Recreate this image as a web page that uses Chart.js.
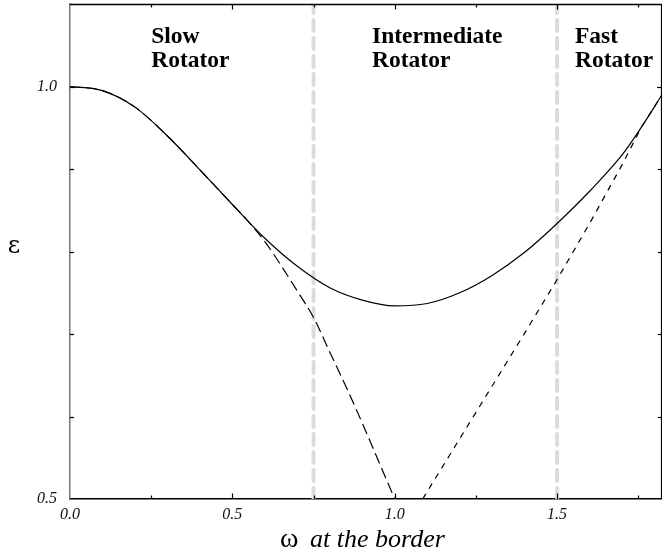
<!DOCTYPE html>
<html><head><meta charset="utf-8">
<script src="https://cdn.jsdelivr.net/npm/chart.js@4"></script>
<style>html,body{margin:0;padding:0;background:#fff}#wrap{width:662px;height:552px}</style>
</head><body>
<div id="wrap"><canvas id="c"></canvas></div>
<script>
// ---- data ----
const solidX = [0, 0.1, 0.2, 0.3, 0.4, 0.5, 0.6, 0.7, 0.8, 0.9, 1.0, 1.1, 1.2, 1.3, 1.4, 1.5, 1.6, 1.7, 1.76, 1.823];
const solidY = [1.0, 0.995, 0.975, 0.94, 0.899, 0.857, 0.816, 0.782, 0.756, 0.741, 0.734, 0.737, 0.750, 0.771, 0.799, 0.834, 0.873, 0.917, 0.951, 0.99];
const longDashX = [0, 0.1, 0.2, 0.3, 0.4, 0.5, 0.55, 0.6, 0.65, 0.7, 0.75, 0.8, 0.85, 0.9, 0.95, 1.0];
const longDashY = [1.0, 0.995, 0.975, 0.94, 0.899, 0.857, 0.836, 0.812, 0.783, 0.752, 0.72, 0.678, 0.636, 0.592, 0.546, 0.5];
const shortDashX = [1.086, 1.2, 1.3, 1.4, 1.5, 1.6, 1.7, 1.76, 1.823];
const shortDashY = [0.5, 0.573, 0.637, 0.701, 0.766, 0.834, 0.905, 0.951, 0.99];
const regionBorders = [0.75, 1.5];
const regionNames = [["Slow", "Rotator"], ["Intermediate", "Rotator"], ["Fast", "Rotator"]];
const regionStarts = [0.25, 0.93, 1.555];
const xTickLabels = ["0.0", "0.5", "1.0", "1.5"];
const yTickLabels = ["0.5", "1.0"];
const xTitleSymbol = "ω";
const xTitleText = "at the border";
const yTitle = "ε";

const pts = (xs, ys) => xs.map((x, i) => ({x: x, y: ys[i]}));

const datasets = [
  {data: pts(solidX, solidY), borderColor: '#000', borderWidth: 1.2, cubicInterpolationMode: 'monotone'},
  {data: pts(longDashX, longDashY), borderColor: '#000', borderWidth: 1.2, borderDash: [11, 5], cubicInterpolationMode: 'monotone'},
  {data: pts(shortDashX, shortDashY), borderColor: '#000', borderWidth: 1.2, borderDash: [6, 6]}
];
regionBorders.forEach(b => datasets.push({
  data: [{x: b, y: 0.5}, {x: b, y: 1.1}],
  borderColor: '#dcdcdc', borderWidth: 4, borderDash: [11, 7], borderCapStyle: 'round'
}));

const decor = {
  id: 'decor',
  afterDraw(chart) {
    const ctx = chart.ctx, a = chart.chartArea, xs = chart.scales.x, ys = chart.scales.y;
    ctx.save();
    // frame top / right
    ctx.strokeStyle = '#000'; ctx.lineWidth = 1.5;
    ctx.beginPath(); ctx.moveTo(a.left, a.top + 0.5); ctx.lineTo(a.right, a.top + 0.5); ctx.stroke();
    ctx.lineWidth = 1.2;
    ctx.beginPath(); ctx.moveTo(a.right - 0.5, a.top); ctx.lineTo(a.right - 0.5, a.bottom); ctx.stroke();
    // inward ticks
    ctx.lineWidth = 1.2; ctx.strokeStyle = '#000';
    xs.ticks.forEach(t => {
      const lbl = t.value.toFixed(1);
      const major = Math.abs(t.value * 2 - Math.round(t.value * 2)) < 1e-6 && xTickLabels.includes(lbl);
      const len = major ? 5.5 : 3.5;
      const px = Math.round(xs.getPixelForValue(t.value)) + 0.5;
      if (px <= a.left + 1 || px >= a.right - 1) return;
      ctx.beginPath(); ctx.moveTo(px, a.bottom); ctx.lineTo(px, a.bottom - len); ctx.stroke();
      ctx.beginPath(); ctx.moveTo(px, a.top); ctx.lineTo(px, a.top + len); ctx.stroke();
    });
    ys.ticks.forEach(t => {
      const py = Math.round(ys.getPixelForValue(t.value)) + 0.5;
      if (py <= a.top + 1 || py >= a.bottom - 1) return;
      const major = yTickLabels.includes(t.value.toFixed(1));
      const len = major ? 5 : 4;
      ctx.beginPath(); ctx.moveTo(a.left, py); ctx.lineTo(a.left + len, py); ctx.stroke();
      ctx.beginPath(); ctx.moveTo(a.right, py); ctx.lineTo(a.right - len, py); ctx.stroke();
    });
    // region labels
    ctx.fillStyle = '#000';
    ctx.font = 'bold 23.5px "Liberation Serif"';
    ctx.textAlign = 'left'; ctx.textBaseline = 'alphabetic';
    regionNames.forEach((lines, i) => {
      const px = xs.getPixelForValue(regionStarts[i]);
      const py = ys.getPixelForValue(1.053);
      lines.forEach((s, j) => ctx.fillText(s, px, py + j * 24.5));
    });
    // x title
    ctx.font = '28px "Liberation Serif"';
    const w1 = ctx.measureText(xTitleSymbol).width;
    const sx = 280;
    ctx.fillText(xTitleSymbol, sx, 547);
    ctx.font = 'italic 26px "Liberation Serif"';
    ctx.fillText(xTitleText, 310, 547);
    // y title
    ctx.font = '24px "DejaVu Serif"';
    ctx.textAlign = 'center';
    ctx.fillText(yTitle, 14, 253);
    ctx.restore();
  }
};

new Chart(document.getElementById('c'), {
  type: 'scatter',
  data: {datasets: datasets},
  options: {
    responsive: true, maintainAspectRatio: false, animation: false,
    layout: {padding: {top: 4, right: 0, left: 0, bottom: 0}},
    elements: {point: {radius: 0, hoverRadius: 0}, line: {fill: false}},
    datasets: {scatter: {showLine: true}},
    plugins: {legend: {display: false}, tooltip: {enabled: false}},
    scales: {
      x: {
        type: 'linear', min: 0, max: 1.823, position: 'bottom',
        afterFit: s => { s.height = 53; s.paddingLeft = 0; s.paddingRight = 0; },
        grid: {display: false, drawTicks: false},
        border: {display: true, color: '#000', width: 1.5},
        ticks: {
          stepSize: 0.25, includeBounds: false, padding: 6, maxRotation: 0, autoSkip: false,
          color: '#111', font: {family: '"Liberation Serif"', size: 16, style: 'italic'},
          callback: v => {
            const s = Number(v).toFixed(1);
            return (Math.abs(v * 2 - Math.round(v * 2)) < 1e-6 && xTickLabels.includes(s)) ? s : '';
          }
        }
      },
      y: {
        type: 'linear', min: 0.5, max: 1.1,
        afterFit: s => { s.width = 70; s.paddingTop = 0; s.paddingBottom = 0; },
        grid: {display: false, drawTicks: false},
        border: {display: true, color: '#777', width: 1.5},
        ticks: {
          stepSize: 0.1, includeBounds: false, padding: 13, autoSkip: false,
          color: '#111', font: {family: '"Liberation Serif"', size: 16, style: 'italic'},
          callback: v => {
            const s = Number(v).toFixed(1);
            return yTickLabels.includes(s) ? s : '';
          }
        }
      }
    }
  },
  plugins: [decor]
});
</script>
</body></html>
